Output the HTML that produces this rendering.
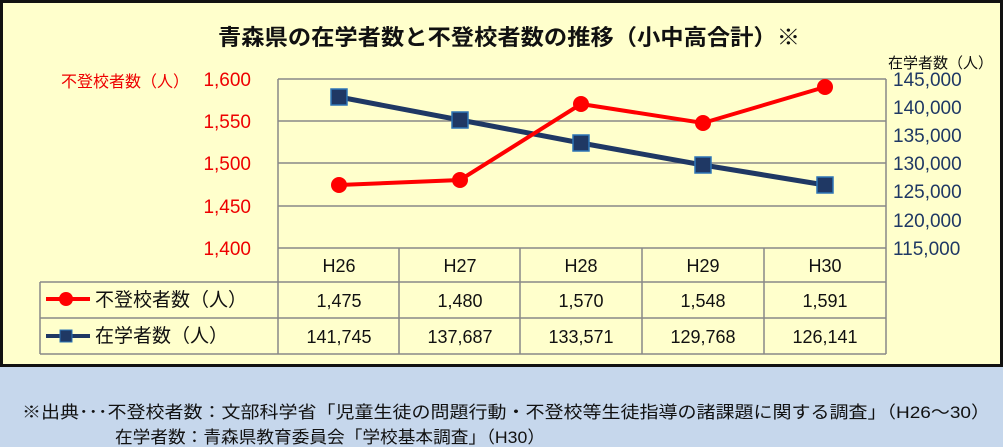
<!DOCTYPE html>
<html><head><meta charset="utf-8"><style>
body{margin:0;width:1003px;height:447px;background:#c6d7ec;overflow:hidden;font-family:"Liberation Sans","Noto Sans CJK JP",sans-serif}
</style></head><body>
<svg width="1003" height="447" xmlns="http://www.w3.org/2000/svg" style="position:absolute;left:0;top:0" font-family="Liberation Sans, Noto Sans CJK JP, sans-serif">
<rect x="1.5" y="1.5" width="1000" height="364" fill="#ffffcc" stroke="#111" stroke-width="3"/>
<text x="218" y="45" font-size="22" font-weight="bold" fill="#111" textLength="582" lengthAdjust="spacingAndGlyphs">青森県の在学者数と不登校者数の推移（小中高合計）※</text>
<text x="61" y="87" font-size="16" fill="#e00">不登校者数（人）</text>
<text x="888" y="68" font-size="15" fill="#111">在学者数（人）</text>
<g font-size="19" fill="#e00" text-anchor="end">
<text x="251" y="86">1,600</text><text x="251" y="128">1,550</text><text x="251" y="170">1,500</text><text x="251" y="213">1,450</text><text x="251" y="255">1,400</text></g>
<g font-size="19" fill="#1f3864" text-anchor="start">
<text x="893" y="86">145,000</text><text x="893" y="114">140,000</text><text x="893" y="142">135,000</text><text x="893" y="170">130,000</text><text x="893" y="198">125,000</text><text x="893" y="227">120,000</text><text x="893" y="255">115,000</text></g>
<g stroke="#888" stroke-width="1.5" fill="none">
<line x1="278" y1="79" x2="886" y2="79"/><line x1="278" y1="121" x2="886" y2="121"/><line x1="278" y1="163" x2="886" y2="163"/><line x1="278" y1="206" x2="886" y2="206"/>
<line x1="278" y1="79" x2="278" y2="354"/><line x1="886" y1="79" x2="886" y2="354"/>
<line x1="278" y1="248" x2="886" y2="248"/>
<line x1="40" y1="282" x2="886" y2="282"/><line x1="40" y1="318" x2="886" y2="318"/><line x1="40" y1="354" x2="886" y2="354"/>
<line x1="40" y1="282" x2="40" y2="354"/>
<line x1="399" y1="248" x2="399" y2="354"/><line x1="520" y1="248" x2="520" y2="354"/><line x1="642" y1="248" x2="642" y2="354"/><line x1="764" y1="248" x2="764" y2="354"/>
</g>
<polyline points="339,97 460,120 581,143 703,165 825,185" fill="none" stroke="#1f3864" stroke-width="5"/>
<g fill="#1f3864" stroke="#2e75b6" stroke-width="1.5">
<rect x="331" y="89" width="16" height="16"/><rect x="452" y="112" width="16" height="16"/><rect x="573" y="135" width="16" height="16"/><rect x="695" y="157" width="16" height="16"/><rect x="817" y="177" width="16" height="16"/></g>
<polyline points="339,185 460,180 581,104 703,123 825,87" fill="none" stroke="#f00" stroke-width="4"/>
<g fill="#f00"><circle cx="339" cy="185" r="8"/><circle cx="460" cy="180" r="8"/><circle cx="581" cy="104" r="8"/><circle cx="703" cy="123" r="8"/><circle cx="825" cy="87" r="8"/></g>
<g font-size="18" fill="#111" text-anchor="middle">
<text x="339" y="272">H26</text><text x="460" y="272">H27</text><text x="581" y="272">H28</text><text x="703" y="272">H29</text><text x="825" y="272">H30</text>
<text x="339" y="307">1,475</text><text x="460" y="307">1,480</text><text x="581" y="307">1,570</text><text x="703" y="307">1,548</text><text x="825" y="307">1,591</text>
<text x="339" y="343">141,745</text><text x="460" y="343">137,687</text><text x="581" y="343">133,571</text><text x="703" y="343">129,768</text><text x="825" y="343">126,141</text></g>
<line x1="46" y1="299" x2="90" y2="299" stroke="#f00" stroke-width="4"/><circle cx="66" cy="299" r="7" fill="#f00"/>
<line x1="46" y1="336" x2="90" y2="336" stroke="#1f3864" stroke-width="4"/><rect x="60" y="330" width="12" height="12" fill="#1f3864" stroke="#2e75b6"/>
<text x="95" y="306" font-size="19" fill="#111">不登校者数（人）</text>
<text x="95" y="342" font-size="19" fill="#111">在学者数（人）</text>
<text x="22" y="418" font-size="17" fill="#111" textLength="968" lengthAdjust="spacingAndGlyphs">※出典･･･不登校者数：文部科学省「児童生徒の問題行動・不登校等生徒指導の諸課題に関する調査」（H26～30）</text>
<text x="115" y="443" font-size="17" fill="#111" textLength="430" lengthAdjust="spacingAndGlyphs">在学者数：青森県教育委員会「学校基本調査」（H30）</text>
</svg>
</body></html>
